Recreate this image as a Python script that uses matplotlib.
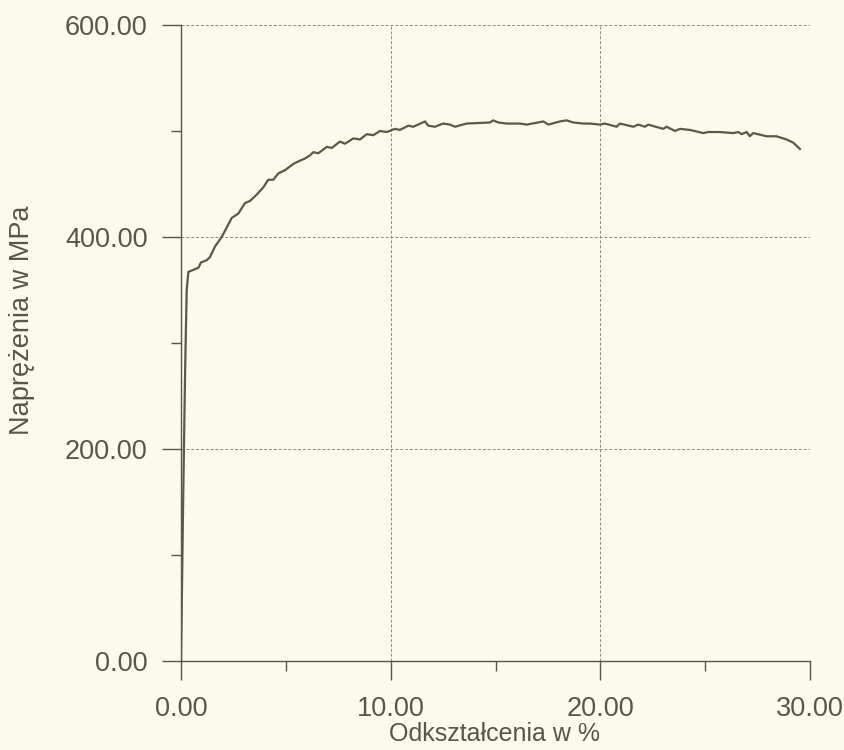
"""
Stress-strain curve (tensile test) recreated with matplotlib.
"""
import matplotlib
matplotlib.use("Agg")
import matplotlib.pyplot as plt
from matplotlib.ticker import MultipleLocator, FormatStrFormatter


# strain [%] and stress [MPa]
strain = [0.0, 0.1, 0.2, 0.27, 0.35, 0.59, 0.83, 0.95, 1.22, 1.38, 1.62, 1.94,
          2.18, 2.42, 2.73, 3.05, 3.29, 3.61, 3.93, 4.16, 4.40, 4.64, 4.96,
          5.36, 5.67, 5.91, 6.15, 6.31, 6.55, 6.95, 7.19, 7.58, 7.82, 8.22,
          8.54, 8.86, 9.17, 9.49, 9.81, 10.2, 10.44, 10.84, 11.08, 11.64,
          11.79, 12.11, 12.5, 12.83, 13.07, 13.62, 14.73, 14.89, 15.13, 15.53,
          16.17, 16.49, 17.28, 17.52, 18.07, 18.39, 18.71, 19.19, 19.5, 19.98,
          20.22, 20.78, 20.93, 21.57, 21.81, 22.13, 22.28, 23.0, 23.16, 23.56,
          23.8, 24.27, 24.91, 25.15, 25.7, 26.34, 26.58, 26.74, 26.98, 27.13,
          27.29, 27.93, 28.4, 28.88, 29.2, 29.52]
stress = [0, 150, 280, 350, 367, 369, 371, 376, 378, 381, 391, 400,
          409, 418, 422, 432, 434, 440, 447, 454, 454, 460, 463,
          469, 472, 474, 477, 480, 479, 485, 484, 490, 488, 493,
          492, 497, 496, 500, 499, 502, 501, 505, 504, 509,
          505, 504, 507, 506, 504, 507, 508, 510, 508, 507,
          507, 506, 509, 506, 509, 510, 508, 507, 507, 506,
          507, 504, 507, 504, 506, 504, 506, 502, 504, 500,
          502, 501, 498, 499, 499, 498, 499, 497, 499, 495,
          498, 495, 495, 492, 489, 483]

x_major = [0, 10, 20, 30]
y_major = [0, 200, 400, 600]
x_label = "Odkształcenia w %"
y_label = "Naprężenia w MPa"

BG = "#fcfaea"
INK = "#56564a"
GRID = "#8a8a80"

plt.rcParams["font.family"] = ["Liberation Sans", "DejaVu Sans"]

fig = plt.figure(figsize=(8.44, 7.5), dpi=100, facecolor=BG)
ax = fig.add_axes([0.2145, 0.1187, 0.7452, 0.848])
ax.set_facecolor(BG)

ax.plot(strain, stress, color="#5a5a46", linewidth=1.6, zorder=3)

ax.set_xlim(0, 30)
ax.set_ylim(0, 600)
ax.set_xticks(x_major)
ax.set_yticks(y_major)
ax.xaxis.set_minor_locator(MultipleLocator(5))
ax.yaxis.set_minor_locator(MultipleLocator(100))
ax.xaxis.set_major_formatter(FormatStrFormatter("%.2f"))
ax.yaxis.set_major_formatter(FormatStrFormatter("%.2f"))

ax.tick_params(axis="both", which="major", direction="out", length=14,
               width=1.0, color=INK, labelsize=19.5, labelcolor=INK)
ax.tick_params(axis="both", which="minor", direction="out", length=7,
               width=1.0, color=INK)
ax.tick_params(axis="x", which="major", pad=11)
ax.tick_params(axis="y", which="major", pad=10)

ax.grid(True, which="major", color=GRID, linestyle=(0, (3, 2)), linewidth=0.7)
for side in ("top", "right"):
    ax.spines[side].set_visible(False)
for side in ("left", "bottom"):
    ax.spines[side].set_color(INK)
    ax.spines[side].set_linewidth(1.0)

ax.set_xlabel(x_label, fontsize=18, color=INK)
ax.set_ylabel(y_label, fontsize=19.5, color=INK)
ax.xaxis.set_label_coords(0.498, -0.096)
ax.yaxis.set_label_coords(-0.232, 0.535)

fig.savefig("out.png", dpi=100, facecolor=BG)
